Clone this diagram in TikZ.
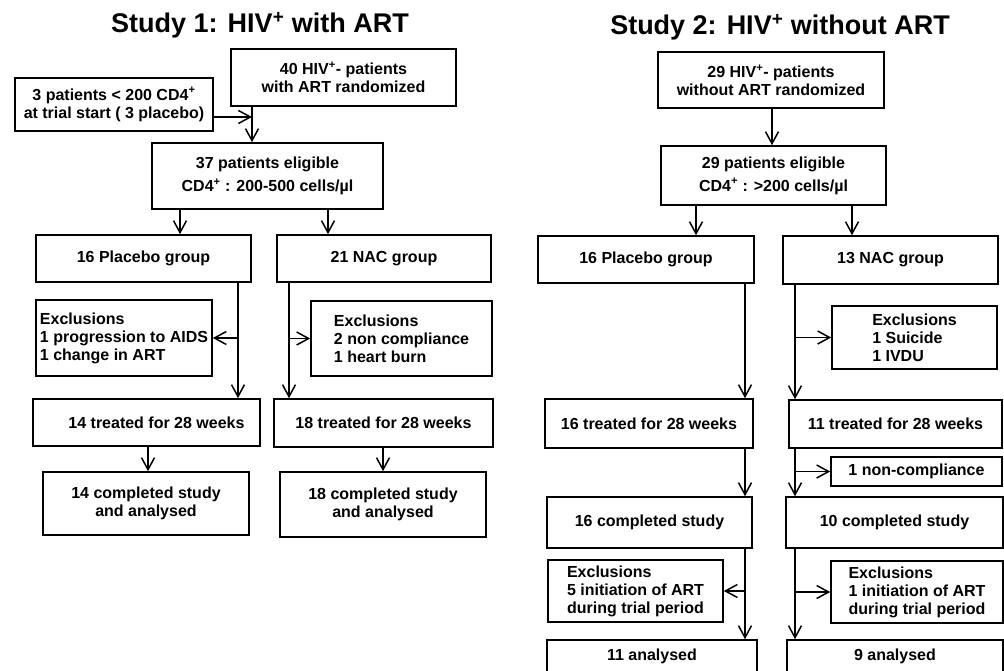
\documentclass[tikz,border=0pt]{standalone}
\usepackage{fontspec}
\setmainfont{Liberation Sans}
\usetikzlibrary{arrows.meta}

\begin{document}
\begin{tikzpicture}[x=1pt,y=-1pt,
    box/.style={rectangle,draw,line width=1.6pt,inner sep=0pt,align=center,
                font=\fontsize{16}{18}\selectfont\bfseries},
    exbox/.style={box,align=left},
    sz/.style 2 args={minimum width=#1pt,minimum height=#2pt},
    ttl/.style={anchor=base,font=\fontsize{27}{30}\selectfont\bfseries},
    arr/.style={-{Straight Barb[length=12pt,width=13pt,line width=1.5pt]},line width=1.6pt}]
  \useasboundingbox (0,0) rectangle (1004,671);
  \clip (0,0) rectangle (1004,671);

  % Study 1
  \node[ttl] (ttl1) at (260,33) {Study 1: HIV\textsuperscript{+} with ART};
  \node[box,sz={225}{57}] (rand1) at (343.5,77.5) {40 HIV\textsuperscript{+}- patients\\with ART randomized};
  \node[box,sz={198}{53}] (low1) at (114,104.5) {3 patients < 200 CD4\textsuperscript{+}\\at trial start ( 3 placebo)};
  \node[box,sz={231}{66}] (elig1) at (267.5,176) {37 patients eligible\\[5pt]CD4\textsuperscript{+} : 200-500 cells/µl};
  \node[box,sz={215}{47}] (plc1) at (143.5,258.5) {16 Placebo group};
  \node[box,sz={214}{47}] (nac1) at (384,258.5) {21 NAC group};
  \node[exbox,sz={176}{76}] (exc1) at (124,338) {Exclusions\\1 progression to AIDS\\1 change in ART};
  \node[exbox,sz={181}{75}] (exc2) at (401.5,338.5) {Exclusions\\2 non compliance\\1 heart burn};
  \node[box,sz={227}{47}] (trt1) at (146.5,422.5) {\hspace{20pt}14 treated for 28 weeks};
  \node[box,sz={219}{48}] (trt2) at (383.5,423) {18 treated for 28 weeks};
  \node[box,sz={206}{63}] (cmp1) at (146,503.5) {14 completed study\\and analysed};
  \node[box,sz={206}{65}] (cmp2) at (383,504.5) {18 completed study\\and analysed};

  \coordinate (j1) at (252,117);
  \coordinate (a1) at (180,0);
  \coordinate (b1) at (328,0);
  \coordinate (t1) at (238,0);
  \coordinate (u1) at (289,0);
  \coordinate (v1) at (148,0);
  \coordinate (w1) at (383,0);
  \draw[arr] (rand1.south -| j1) -- (elig1.north -| j1);
  \draw[arr] (low1.east |- j1) -- (j1);
  \draw[arr] (elig1.south -| a1) -- (plc1.north -| a1);
  \draw[arr] (elig1.south -| b1) -- (nac1.north -| b1);
  \draw[arr] (plc1.south -| t1) -- (trt1.north -| t1);
  \draw[arr] (exc1.east -| t1) -- (exc1.east);
  \draw[arr] (nac1.south -| u1) -- (trt2.north -| u1);
  \draw[arr] (exc2.west -| u1) -- (exc2.west);
  \draw[arr] (trt1.south -| v1) -- (cmp1.north -| v1);
  \draw[arr] (trt2.south -| w1) -- (cmp2.north -| w1);

  % Study 2
  \node[ttl] (ttl2) at (780,35) {Study 2: HIV\textsuperscript{+} without ART};
  \node[box,sz={226}{56}] (rand2) at (771,80) {29 HIV\textsuperscript{+}- patients\\without ART randomized};
  \node[box,sz={225}{59}] (elig2) at (773.5,175.5) {29 patients eligible\\[5pt]CD4\textsuperscript{+} : >200 cells/µl};
  \node[box,sz={216}{47}] (plc2) at (646,259.5) {16 Placebo group};
  \node[box,sz={215}{48}] (nac2) at (890.5,260) {13 NAC group};
  \node[exbox,sz={165}{63}] (exc3) at (914.5,337.5) {Exclusions\\1 Suicide\\1 IVDU};
  \node[box,sz={208}{49}] (trt3) at (649,423.5) {16 treated for 28 weeks};
  \node[box,sz={213}{48}] (trt4) at (895.5,424) {11 treated for 28 weeks};
  \node[box,sz={171}{29}] (exc4) at (916.5,471.5) {1 non-compliance};
  \node[box,sz={205}{51}] (cmp3) at (649.5,522.5) {16 completed study};
  \node[box,sz={217}{51}] (cmp4) at (894.5,522.5) {10 completed study};
  \node[exbox,sz={175}{62}] (exc5) at (635.5,591) {Exclusions\\5 initiation of ART\\during trial period};
  \node[exbox,sz={172}{62}] (exc6) at (917,592) {Exclusions\\1 initiation of ART\\during trial period};
  \node[box,sz={210}{33}] (ana3) at (652,656.5) {11 analysed};
  \node[box,sz={216}{33}] (ana4) at (895,656.5) {9 analysed};

  \coordinate (j2) at (772,0);
  \coordinate (a2) at (696,0);
  \coordinate (b2) at (852,0);
  \coordinate (t2) at (745,0);
  \coordinate (u2) at (795,0);
  \draw[arr] (rand2.south -| j2) -- (elig2.north -| j2);
  \draw[arr] (elig2.south -| a2) -- (plc2.north -| a2);
  \draw[arr] (elig2.south -| b2) -- (nac2.north -| b2);
  \draw[arr] (plc2.south -| t2) -- (trt3.north -| t2);
  \draw[arr] (trt3.south -| t2) -- (cmp3.north -| t2);
  \draw[arr] (cmp3.south -| t2) -- (ana3.north -| t2);
  \draw[arr] (exc5.east -| t2) -- (exc5.east);
  \draw[arr] (nac2.south -| u2) -- (trt4.north -| u2);
  \draw[arr] (exc3.west -| u2) -- (exc3.west);
  \draw[arr] (trt4.south -| u2) -- (cmp4.north -| u2);
  \draw[arr] (exc4.west -| u2) -- (exc4.west);
  \draw[arr] (cmp4.south -| u2) -- (ana4.north -| u2);
  \draw[arr] (exc6.west -| u2) -- (exc6.west);
\end{tikzpicture}
\end{document}
